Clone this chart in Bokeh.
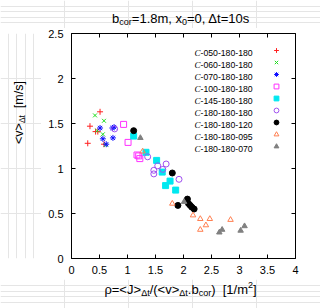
import math
from bokeh.plotting import figure
from bokeh.layouts import column, row
from bokeh.models import (ColumnDataSource, Label, Legend, LegendItem, LinearAxis,
                          SingleIntervalTicker, CustomJSTickFormatter)
from bokeh.embed import file_html
from bokeh.resources import INLINE

# ---------------- data ----------------
series_names = ["-050-180-180", "-060-180-180", "-070-180-180", "-100-180-180",
                "-145-180-180", "-180-180-180", "-180-180-120", "-180-180-095",
                "-180-180-070"]

rho_050 = [0.51, 0.33, 0.43, 0.47, 0.29, 0.58]
v_050 = [1.63, 1.47, 1.41, 1.41, 1.28, 1.27]

rho_060 = [0.42, 0.58, 0.46, 0.56, 0.61]
v_060 = [1.59, 1.53, 1.42, 1.38, 1.26]

rho_070 = [0.51, 0.73, 0.76, 0.56, 0.74, 0.62]
v_070 = [1.45, 1.45, 1.46, 1.33, 1.34, 1.27]

rho_100 = [0.93, 1.01, 1.17, 1.20, 1.22]
v_100 = [1.49, 1.29, 1.15, 1.14, 1.11]

rho_145 = [1.11, 1.33, 1.52, 1.62, 1.76, 1.68, 1.86]
v_145 = [1.36, 1.18, 1.09, 0.96, 0.86, 0.81, 0.76]

rho_180 = [0.77, 1.36, 1.54, 1.69, 1.63, 1.47, 1.47, 1.92]
v_180 = [1.44, 1.13, 1.03, 1.05, 0.99, 0.98, 0.94, 0.88]

rho_120 = [1.11, 1.80, 2.07, 1.90, 2.09, 2.12, 2.15, 2.19]
v_120 = [1.42, 0.95, 0.66, 0.59, 0.61, 0.59, 0.57, 0.55]

rho_095 = [1.27, 1.80, 2.17, 2.30, 2.47, 2.84, 2.40, 2.30]
v_095 = [1.19, 0.61, 0.48, 0.44, 0.44, 0.43, 0.37, 0.32]

rho_070b = [1.23, 2.01, 2.64, 2.69, 3.02, 3.09]
v_070b = [1.34, 0.63, 0.29, 0.32, 0.31, 0.36]

x_ticks_interval = 0.5
y_ticks_interval = 0.5

# ---------------- styling ----------------
SANS = "Liberation Sans"
SERIF = "Liberation Serif"
NB = "\u00a0"

series = [
    (rho_050, v_050, "cross", "#ff2020", None, 6),
    (rho_060, v_060, "x", "#20dd20", None, 5.5),
    (rho_070, v_070, "asterisk", "#1010ff", None, 6),
    (rho_100, v_100, "square", "#ff30ff", None, 6),
    (rho_145, v_145, "square", "#00e8f0", "#00e8f0", 6),
    (rho_180, v_180, "circle", "#a050f0", None, 6),
    (rho_120, v_120, "circle", "#000000", "#000000", 6),
    (rho_095, v_095, "triangle", "#ff7f50", None, 5.5),
    (rho_070b, v_070b, "triangle", "#808080", "#808080", 5.5),
]

# page layout (page px, layout origin at 0,0)
TOTAL_W = 320
TITLE_H = 28          # y 0..28
MAIN_TOP = TITLE_H
MAIN_H = 251          # y 28..279
XLAB_H = 29           # y 279..308
YLAB_W = 41           # x 0..41
MAIN_W = TOTAL_W - YLAB_W

FRAME_L, FRAME_R, FRAME_T, FRAME_B = 71, 295, 33, 258


def text_fig(w, h):
    f = figure(width=w, height=h, x_range=(0, 1), y_range=(0, 1),
               output_backend="svg", toolbar_location=None,
               x_axis_location=None, y_axis_location=None,
               min_border_left=0, min_border_right=0, min_border_top=0, min_border_bottom=0)
    f.outline_line_color = None
    f.background_fill_color = "white"
    f.border_fill_color = "white"
    return f


p = figure(width=MAIN_W, height=MAIN_H, x_range=(0, 4), y_range=(0, 2.5),
           output_backend="svg", toolbar_location=None,
           min_border_left=FRAME_L - YLAB_W, min_border_right=TOTAL_W - FRAME_R,
           min_border_top=FRAME_T - MAIN_TOP, min_border_bottom=(MAIN_TOP + MAIN_H) - FRAME_B,
           x_axis_location=None, y_axis_location=None)
p.grid.visible = False
p.outline_line_color = "#000000"
p.outline_line_width = 1
p.background_fill_color = "white"
p.border_fill_color = "white"

for loc, dim in (("below", "x"), ("above", "x"), ("left", "y"), ("right", "y")):
    ax = LinearAxis(ticker=SingleIntervalTicker(interval=x_ticks_interval if dim == "x" else y_ticks_interval))
    ax.major_tick_in = 4
    ax.major_tick_out = 0
    ax.minor_tick_in = 0
    ax.minor_tick_out = 0
    ax.minor_tick_line_color = None
    ax.axis_line_color = None
    ax.major_tick_line_color = "#000000"
    ax.major_label_text_font = SANS
    ax.major_label_text_font_size = "11px"
    ax.major_label_text_color = "#000000"
    if loc in ("above", "right"):
        ax.formatter = CustomJSTickFormatter(code="return ''")
        ax.major_label_standoff = 0
    elif loc == "left":
        ax.major_label_standoff = 8
    else:
        ax.major_label_standoff = 7
    p.add_layout(ax, loc)

renderers = []
for xs, ys, mk, col, fill, sz in series:
    src = ColumnDataSource(dict(x=xs, y=ys))
    r = p.scatter("x", "y", source=src, marker=mk, size=sz, line_color=col,
                  line_width=1, fill_color=fill if fill else None)
    renderers.append(r)

# ---------------- legend (glyphs) ----------------
ROW = 12
row0_page = 49.5
legend_top_frame = row0_page - ROW / 2 - FRAME_T
leg_h = ROW * len(renderers)
frame_h = FRAME_B - FRAME_T
legend = Legend(items=[LegendItem(label=" ", renderers=[r]) for r in renderers],
                location=(276 - FRAME_L - 6, frame_h - legend_top_frame - leg_h),
                padding=0, margin=0, spacing=0, glyph_width=12, glyph_height=ROW,
                label_height=ROW, label_width=0, label_standoff=0,
                label_text_font_size="1px", border_line_color=None,
                background_fill_alpha=0)
p.add_layout(legend)

# ---------------- text helpers ----------------
AW = {' ': 278, NB: 278, '!': 278, '(': 333, ')': 333, '.': 278, ',': 278, '/': 278, '-': 333,
      '=': 584, '<': 584, '>': 584, '[': 278, ']': 278,
      'a': 556, 'b': 556, 'c': 500, 'd': 556, 'e': 556, 'f': 278, 'g': 556, 'h': 556,
      'i': 222, 'j': 222, 'k': 500, 'l': 222, 'm': 833, 'n': 556, 'o': 556, 'p': 556,
      'q': 556, 'r': 333, 's': 500, 't': 278, 'u': 556, 'v': 500, 'w': 722, 'x': 500,
      'y': 500, 'z': 500, 'J': 500, 'C': 722, 'Δ': 668, 'ρ': 577}


def tw(text, size, font):
    if font == SERIF:
        return 0.667 * size * len(text)
    return sum(AW.get(c, 556) for c in text) * size / 1000.0


def total(pieces):
    return sum(tw(t, s, f) for t, s, _, f, _ in pieces)


title_fig = text_fig(TOTAL_W, TITLE_H)
ylab_fig = text_fig(YLAB_W, MAIN_H)
xlab_fig = text_fig(TOTAL_W, XLAB_H)

# each target: (figure, page x of frame left, page y of frame bottom)
targets = {
    "title": (title_fig, 0, TITLE_H),
    "ylab": (ylab_fig, 0, MAIN_TOP + MAIN_H),
    "xlab": (xlab_fig, 0, MAIN_TOP + MAIN_H + XLAB_H),
    "main": (p, FRAME_L, FRAME_B),
}


def put_pieces(pieces, start, base, where, rotated=False):
    """pieces: (text, size, shift, font, style); shift >0 = raised."""
    fig, ox, oy = targets[where]
    pos = start
    for text, size, shift, font, style in pieces:
        if rotated:
            px, py, ang = base - shift, pos, math.pi / 2
            pos -= tw(text, size, font)
        else:
            px, py, ang = pos, base - shift, 0
            pos += tw(text, size, font)
        lab = Label(x=px - ox, y=oy - py, x_units="screen", y_units="screen",
                    text=text, text_font=font, text_font_size=f"{size}px",
                    text_font_style=style, text_color="#000000",
                    text_align="left", text_baseline="alphabetic", angle=ang)
        fig.add_layout(lab)


# title
title_pieces = [("b", 13, 0, SANS, "normal"), ("cor", 9, -3.5, SANS, "normal"),
                ("=1.8m, x", 13, 0, SANS, "normal"), ("0", 9, -3.5, SANS, "normal"),
                ("=0, Δt=10s", 13, 0, SANS, "normal")]
put_pieces(title_pieces, 180.5 - total(title_pieces) / 2, 18, "title")

# x label
xl_pieces = [("ρ=<J>", 13, 0, SANS, "normal"), ("Δt", 9, -3, SANS, "normal"),
             ("/(<v>", 13, 0, SANS, "normal"), ("Δt", 9, -3, SANS, "normal"),
             (".b", 13, 0, SANS, "normal"), ("cor", 9, -3, SANS, "normal"),
             (")" + NB + NB + "[1/m", 13, 0, SANS, "normal"), ("2", 9, 5, SANS, "normal"),
             ("]", 13, 0, SANS, "normal")]
put_pieces(xl_pieces, 180 - total(xl_pieces) / 2, 289, "xlab")

# y label (rotated, reading upwards)
yl_pieces = [("<v>", 12.5, 0, SANS, "normal"), ("Δt", 8.5, -3, SANS, "normal"),
             (NB + NB + "[m/s]", 12.5, 0, SANS, "normal")]
put_pieces(yl_pieces, 133 + total(yl_pieces) / 2, 18.5, "ylab", rotated=True)

# legend texts
for i, name in enumerate(series_names):
    yrow = row0_page + ROW * i + 3.2
    put_pieces([("C", 9, 0, SERIF, "italic"), (name, 8.7, 0, SANS, "normal")], 194, yrow, "main")

layout = column(title_fig, row(ylab_fig, p, spacing=0), xlab_fig, spacing=0)
open("out.html", "w").write(file_html(layout, INLINE))
